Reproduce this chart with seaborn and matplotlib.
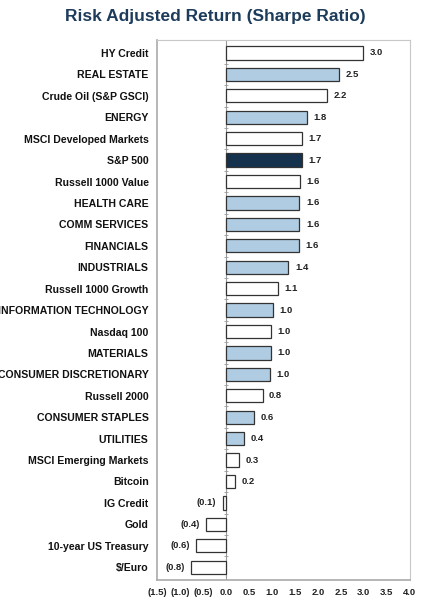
import numpy as np
import pandas as pd
import matplotlib
matplotlib.use("Agg")
import matplotlib.pyplot as plt
import seaborn as sns

categories = [
    "HY Credit", "REAL ESTATE", "Crude Oil (S&P GSCI)", "ENERGY",
    "MSCI Developed Markets", "S&P 500", "Russell 1000 Value", "HEALTH CARE",
    "COMM SERVICES", "FINANCIALS", "INDUSTRIALS", "Russell 1000 Growth",
    "INFORMATION TECHNOLOGY", "Nasdaq 100", "MATERIALS", "CONSUMER DISCRETIONARY",
    "Russell 2000", "CONSUMER STAPLES", "UTILITIES", "MSCI Emerging Markets",
    "Bitcoin", "IG Credit", "Gold", "10-year US Treasury", "$/Euro",
]
sharpe = [
    2.98, 2.46, 2.2, 1.76, 1.66, 1.66, 1.61, 1.6,
    1.6, 1.58, 1.36, 1.13, 1.02, 0.98, 0.98, 0.96,
    0.8, 0.61, 0.39, 0.28, 0.2, -0.07, -0.43, -0.64, -0.76,
]
# "sector", "index" or "benchmark"
kind = [
    "index", "sector", "index", "sector", "index", "benchmark", "index", "sector",
    "sector", "sector", "sector", "index", "sector", "index", "sector", "sector",
    "index", "sector", "sector", "index", "index", "index", "index", "index", "index",
]
ticks = np.arange(-1.5, 4.01, 0.5)

fill = {"sector": "#a8cdea", "index": "#ffffff", "benchmark": "#0b3157"}

plt.rcParams["font.family"] = ["Liberation Sans", "DejaVu Sans"]


def fmt(v, digits=1):
    s = f"{abs(v):.{digits}f}"
    return f"({s})" if v < -1e-9 else s


df = pd.DataFrame({"category": categories, "sharpe": sharpe, "kind": kind})

fig = plt.figure(figsize=(4.3, 6.08), dpi=100)
ax = fig.add_axes([0.365, 0.046, 0.588, 0.888])

sns.barplot(
    data=df, x="sharpe", y="category", hue="category",
    palette=[fill[k] for k in kind], orient="h", width=0.62,
    edgecolor="#333333", linewidth=0.9, legend=False, ax=ax,
)

for i, v in enumerate(sharpe):
    off = 0.14 if v >= 0 else -0.14
    ax.text(v + off, i, fmt(v), ha="left" if v >= 0 else "right", va="center",
            fontsize=6.8, fontweight="bold", color="#222222")

ax.axvline(0, color="#999999", lw=0.8, zorder=0)
ax.plot(np.zeros(len(categories) - 1), np.arange(len(categories) - 1) + 0.5,
        marker="_", ms=3, ls="none", color="#999999", mew=0.6)

ax.set_xlim(-1.5, 4.0)
ax.set_ylim(len(categories) - 0.4, -0.6)
ax.set_xticks(ticks)
ax.set_xticklabels([fmt(t) for t in ticks], fontsize=6.8, fontweight="bold", color="#222222")
ax.tick_params(axis="x", length=0, pad=6)
ax.tick_params(axis="y", length=0, pad=6, labelsize=7.6)
for lab in ax.get_yticklabels():
    lab.set_fontweight("bold")
    lab.set_color("#111111")
ax.set_xlabel("")
ax.set_ylabel("")
for name, sp in ax.spines.items():
    sp.set_color("#c8c8c8" if name in ("top", "right") else "#aaaaaa")
    sp.set_linewidth(1.2 if name in ("left", "bottom") else 0.8)

fig.suptitle("Risk Adjusted Return (Sharpe Ratio)", x=0.5, y=0.985,
             fontsize=12.5, fontweight="bold", color="#1d3c5c",
             family=["Liberation Sans Narrow", "Liberation Sans"])

fig.savefig("out.png", dpi=100)
